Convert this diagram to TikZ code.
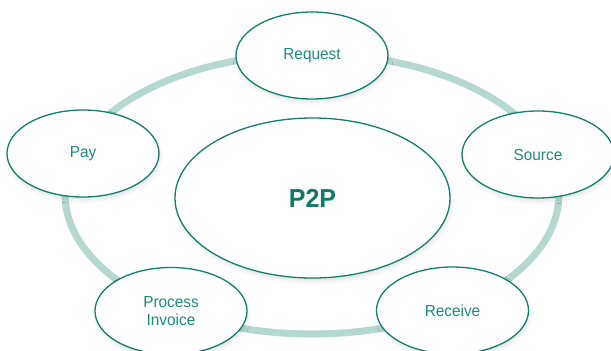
\documentclass[tikz,border=0pt]{standalone}
\usepackage{fontspec}
\setmainfont{Liberation Sans}[FakeStretch=0.96]
\usetikzlibrary{shapes.geometric,shadows.blur}
\definecolor{p2pline}{HTML}{12806E}
\definecolor{p2ptext}{HTML}{1E8C7B}
\definecolor{p2pdark}{HTML}{0F7A69}
\definecolor{p2pring}{HTML}{B5D8D1}
\begin{document}
\begin{tikzpicture}
    [ x=1pt, y=-1pt,
      step-node/.style = {
        shape=ellipse, draw=p2pline, line width=1.3pt, fill=white,
        minimum width=152pt, minimum height=87pt, inner sep=0pt,
        align=center, text=p2ptext, font=\fontsize{16}{18}\selectfont,
        blur shadow={shadow xshift=1pt, shadow yshift=-3pt,
          shadow blur radius=4pt, shadow opacity=12}
      },
      hub-node/.style = {
        step-node, minimum width=275pt, minimum height=160pt,
        text=p2pdark, font=\fontsize{26}{30}\selectfont\bfseries
      },
      ring/.style = {draw=p2pring, line width=7pt}]
      \useasboundingbox (0,0) rectangle (611,351);
      \coordinate (ring-c) at (312,194);
      \draw [ring] (ring-c) ellipse [x radius=247, y radius=140];
      \node [hub-node] (p2p) at (312.5,198) {P2P};
      \node [step-node] (request) at (312,55.5) {Request};
      \node [step-node] (source) at (538,154.5) {Source};
      \node [step-node] (receive) at (452.5,310.5) {Receive};
      \node [step-node] (invoice) at (171,311) {Process\\Invoice};
      \node [step-node] (pay) at (83,153.5) {Pay};
\end{tikzpicture}
\end{document}
